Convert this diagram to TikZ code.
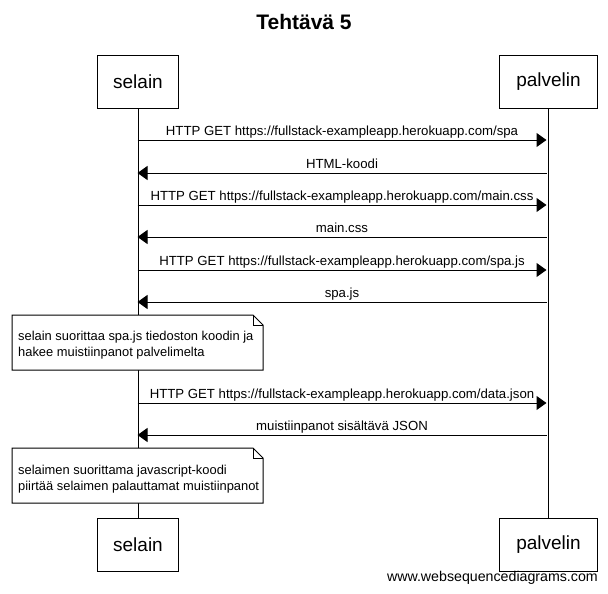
\documentclass[tikz,border=0pt]{standalone}
\usepackage{fontspec}
\setmainfont{Liberation Sans}
\usetikzlibrary{arrows.meta}
\begin{document}
\begin{tikzpicture}[x=1pt,y=-1pt,
  actor/.style={draw,line width=1pt,minimum height=53pt,inner sep=0pt,font=\fontsize{19}{22}\selectfont,anchor=north west},
  lifeline/.style={line width=1pt},
  msg/.style={line width=1pt,-{Triangle[length=10pt,width=14pt]}},
  lbl/.style={font=\fontsize{13.2}{15}\selectfont,inner sep=0pt,anchor=base,yshift=5pt},
  notetxt/.style={font=\fontsize{12.9}{16.5}\selectfont,align=left,anchor=west,inner sep=0pt},
  notebox/.style={line width=1pt}
]
\useasboundingbox (0,0) rectangle (608,594);
\node[font=\bfseries\fontsize{21}{24}\selectfont] (title) at (304,22) {Tehtävä 5};
% actors
\node[actor,minimum width=81pt] (s1) at (97,55) {selain};
\node[actor,minimum width=98pt] (p1) at (499,55) {palvelin};
\node[actor,minimum width=81pt] (s2) at (97,518) {selain};
\node[actor,minimum width=98pt] (p2) at (499,518) {palvelin};
\draw[lifeline] (s1.south) -- (s2.north);
\draw[lifeline] (p1.south) -- (p2.north);
% message coordinates
\foreach \n/\y in {a/140,b/173,c/205,d/237,e/270,f/302,g/403,h/435}{
  \coordinate (s\n) at (137.5,\y);
  \coordinate (p\n) at (546.5,\y);
}
\draw[msg] (sa) -- node[lbl] (la) {HTTP GET https://fullstack-exampleapp.herokuapp.com/spa} (pa);
\draw[msg] (pb) -- node[lbl] (lb) {HTML-koodi} (sb);
\draw[msg] (sc) -- node[lbl] (lc) {HTTP GET https://fullstack-exampleapp.herokuapp.com/main.css} (pc);
\draw[msg] (pd) -- node[lbl] (ld) {main.css} (sd);
\draw[msg] (se) -- node[lbl] (le) {HTTP GET https://fullstack-exampleapp.herokuapp.com/spa.js} (pe);
\draw[msg] (pf) -- node[lbl] (lf) {spa.js} (sf);
\draw[msg] (sg) -- node[lbl] (lg) {HTTP GET https://fullstack-exampleapp.herokuapp.com/data.json} (pg);
\draw[msg] (ph) -- node[lbl] (lh) {muistiinpanot sisältävä JSON} (sh);
% notes
\draw[notebox,fill=white] (12,315) -- (253,315) -- (263,325) -- (263,370) -- (12,370) -- cycle;
\draw[notebox] (253,315) -- (253,325) -- (263,325);
\node[notetxt] (n1) at (18,345) {selain suorittaa spa.js tiedoston koodin ja\\hakee muistiinpanot palvelimelta};
\draw[notebox,fill=white] (12,448) -- (253,448) -- (263,458) -- (263,503) -- (12,503) -- cycle;
\draw[notebox] (253,448) -- (253,458) -- (263,458);
\node[notetxt] (n2) at (18,479) {selaimen suorittama javascript-koodi\\piirtää selaimen palauttamat muistiinpanot};
\node[font=\fontsize{14.2}{16}\selectfont,anchor=east,inner sep=0pt] (wsd) at (598,578) {www.websequencediagrams.com};
\end{tikzpicture}
\end{document}
